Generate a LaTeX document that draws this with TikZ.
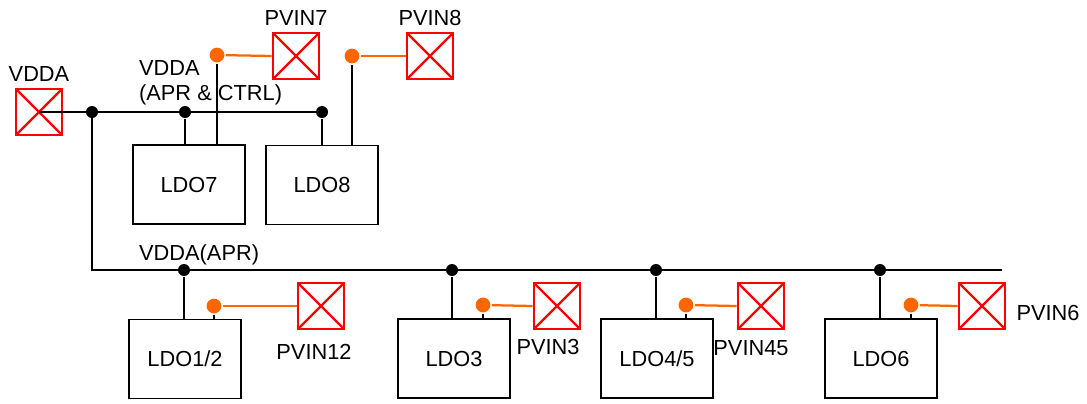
\documentclass[tikz,border=0pt]{standalone}
\usepackage{fontspec}
\setmainfont{Liberation Sans}
\usetikzlibrary{positioning}
\definecolor{padRed}{RGB}{255,0,0}
\definecolor{wireOrange}{RGB}{255,102,0}
\tikzset{every picture/.style={line width=2.1pt}}
\tikzset{
  pad/.style={draw=padRed, line width=2pt, minimum size=1.15cm, inner sep=0pt,
    path picture={\draw[padRed, line width=1.6pt]
      (path picture bounding box.north west) -- (path picture bounding box.south east)
      (path picture bounding box.south west) -- (path picture bounding box.north east);}},
  ldo/.style={draw=black, line width=1.2pt, minimum width=2.8cm, minimum height=1.975cm},
  dot/.style={circle, fill=black, inner sep=0pt, minimum size=0.3cm},
  odot/.style={circle, fill=wireOrange, inner sep=0pt, minimum size=0.37cm},
  owire/.style={draw=wireOrange, line width=1.6pt}
}

\begin{document}
\begin{tikzpicture}[x=0.025cm, y=-0.025cm, font=\fontsize{15.5}{17}\selectfont]
        \useasboundingbox (0,0) rectangle (1087,403);
        % pads
        \node[pad] (vdda) at (39,112) {};
        \node[pad] (pv7) at (296,56) {};
        \node[pad] (pv8) at (430,56) {};
        \node[pad] (pv12) at (321,306) {};
        \node[pad] (pv3) at (557,306) {};
        \node[pad] (pv45) at (761,306) {};
        \node[pad] (pv6) at (982,306) {};
        \node[above=0pt of vdda] (lvdda) {VDDA};
        \node[above=0pt of pv7] (lpv7) {PVIN7};
        \node[above=0pt of pv8] (lpv8) {PVIN8};
        \node (lpv12) at (314,352) {PVIN12};
        \node (lpv3) at (548,347) {PVIN3};
        \node (lpv45) at (751,348) {PVIN45};
        \node (lpv6) at (1048,313) {PVIN6};
        % regulators
        \node[ldo] (ldo7) at (189,184.5) {LDO7};
        \node[ldo] (ldo8) at (322,185) {LDO8};
        \node[ldo] (ldo12) at (185,359) {LDO1/2};
        \node[ldo] (ldo3) at (454,358.5) {LDO3};
        \node[ldo] (ldo45) at (657,358.5) {LDO4/5};
        \node[ldo] (ldo6) at (881,358.5) {LDO6};
        % rail names
        \node[anchor=west] (lctrl) at (133,68) {VDDA};
        \node[below=-2pt of lctrl.south west, anchor=north west] (lctrl2) {(APR \& CTRL)};
        \node[anchor=west] (lapr) at (133,255) {VDDA(APR)};
        % junctions
        \node[dot] (t1) at (92,112) {};
        \node[dot] (t2) at (185,112) {};
        \node[dot] (t3) at (322,112) {};
        \node[dot] (b2) at (184,270) {};
        \node[dot] (b3) at (452,270) {};
        \node[dot] (b4) at (656,270) {};
        \node[dot] (b5) at (880,270) {};
        \coordinate (bend) at (1002,270);
        \node[odot] (o7) at (217,55) {};
        \node[odot] (o8) at (352,56) {};
        \node[odot] (o12) at (214,306) {};
        \node[odot] (o3) at (483,305) {};
        \node[odot] (o45) at (686,305) {};
        \node[odot] (o6) at (911,305) {};
        % rails
        \draw (vdda.center) -- (t3.center);
        \draw (t1.center) |- (bend);
        \draw (t2) -- (t2 |- ldo7.north);
        \draw (t3) -- (t3 |- ldo8.north);
        \draw (o7) -- (o7 |- ldo7.north);
        \draw (o8) -- (o8 |- ldo8.north);
        \draw (b2) -- (b2 |- ldo12.north);
        \draw (b3) -- (b3 |- ldo3.north);
        \draw (b4) -- (b4 |- ldo45.north);
        \draw (b5) -- (b5 |- ldo6.north);
        \draw (o12) -- (o12 |- ldo12.north);
        \draw (o3) -- (o3 |- ldo3.north);
        \draw (o45) -- (o45 |- ldo45.north);
        \draw (o6) -- (o6 |- ldo6.north);
        % supply pins
        \draw[owire] (o7) -- (pv7.west);
        \draw[owire] (o8) -- (pv8.west);
        \draw[owire] (o12) -- (pv12.west);
        \draw[owire] (o3) -- (pv3.west);
        \draw[owire] (o45) -- (pv45.west);
        \draw[owire] (o6) -- (pv6.west);
    \end{tikzpicture}
\end{document}
